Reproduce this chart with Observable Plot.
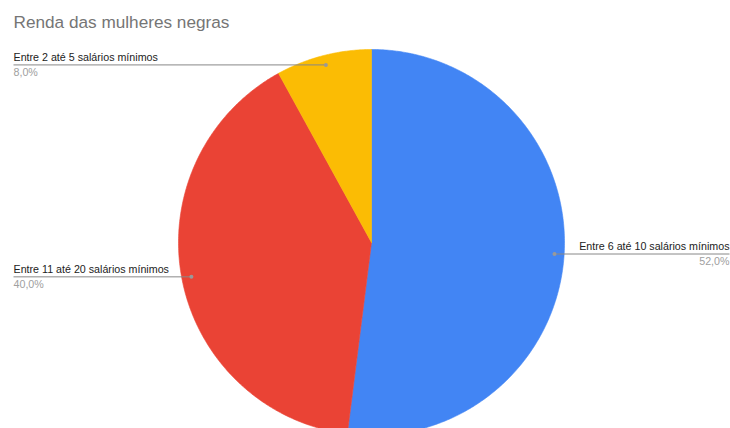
<!DOCTYPE html>
<html>
<head>
<meta charset="utf-8">
<script src="https://cdn.jsdelivr.net/npm/d3@7"></script>
<script src="https://cdn.jsdelivr.net/npm/@observablehq/plot@0.6"></script>
<style>
  html, body { margin: 0; padding: 0; background: #fff; }
  #chart svg { display: block; }
</style>
</head>
<body>
<div id="chart"></div>
<script>
const title = "Renda das mulheres negras";
const categories = ["Entre 6 até 10 salários mínimos", "Entre 11 até 20 salários mínimos", "Entre 2 até 5 salários mínimos"];
const values = [52, 40, 8];
const percentLabels = ["52,0%", "40,0%", "8,0%"];
const colors = ["#4285F4", "#EA4335", "#FBBC04"];

// layout (pixels)
const W = 730, H = 428;
const cx = 371, cy = 242, R = 193;
const leftX = 13, rightX = 729;

const arcs = d3.pie().sort(null).value(d => d)(values);

const slices = arcs.map((a, i) => {
  const pts = [{x: cx, y: cy}];
  const n = Math.max(4, Math.ceil((a.endAngle - a.startAngle) / (Math.PI / 360)));
  for (let k = 0; k <= n; k++) {
    const t = a.startAngle + (a.endAngle - a.startAngle) * k / n;
    pts.push({x: cx + R * Math.sin(t), y: cy - R * Math.cos(t)});
  }
  pts.push({x: cx, y: cy});
  return {pts, color: colors[i]};
});

const anchors = arcs.map((a, i) => {
  const m = (a.startAngle + a.endAngle) / 2;
  const x = cx + 0.95 * R * Math.sin(m);
  const y = cy - 0.95 * R * Math.cos(m);
  const right = m < Math.PI;
  return {
    x, y, right,
    lx: right ? rightX : leftX,
    name: categories[i],
    pct: percentLabels[i]
  };
});
const leftA = anchors.filter(d => !d.right);
const rightA = anchors.filter(d => d.right);

const labelMarks = (data, anchor) => [
  Plot.text(data, {x: "lx", y: d => d.y - 4, text: "name", textAnchor: anchor, lineAnchor: "bottom", fontSize: 10.7, fill: "#222"}),
  Plot.text(data, {x: "lx", y: d => d.y + 11, text: "pct", textAnchor: anchor, lineAnchor: "bottom", fontSize: 10.7, fill: "#a0a0a0"})
];

const plot = Plot.plot({
  width: W,
  height: H,
  margin: 0,
  x: {domain: [0, W], range: [0, W], axis: null},
  y: {domain: [0, H], range: [0, H], axis: null},
  style: {fontFamily: "'Liberation Sans', Arial, sans-serif", background: "#fff"},
  marks: [
    ...slices.map(s => Plot.line(s.pts, {x: "x", y: "y", fill: s.color, stroke: s.color, strokeWidth: 0.6, curve: "linear"})),
    Plot.link(anchors, {x1: "x", y1: "y", x2: "lx", y2: "y", stroke: "#888", strokeWidth: 1}),
    Plot.dot(anchors, {x: "x", y: "y", r: 2, fill: "#999", stroke: null}),
    ...labelMarks(leftA, "start"),
    ...labelMarks(rightA, "end"),
    Plot.text([title], {x: 13, y: 27, text: d => d, textAnchor: "start", lineAnchor: "bottom", fontSize: 17.2, fill: "#757575"})
  ]
});
document.getElementById("chart").appendChild(plot);
</script>
</body>
</html>
